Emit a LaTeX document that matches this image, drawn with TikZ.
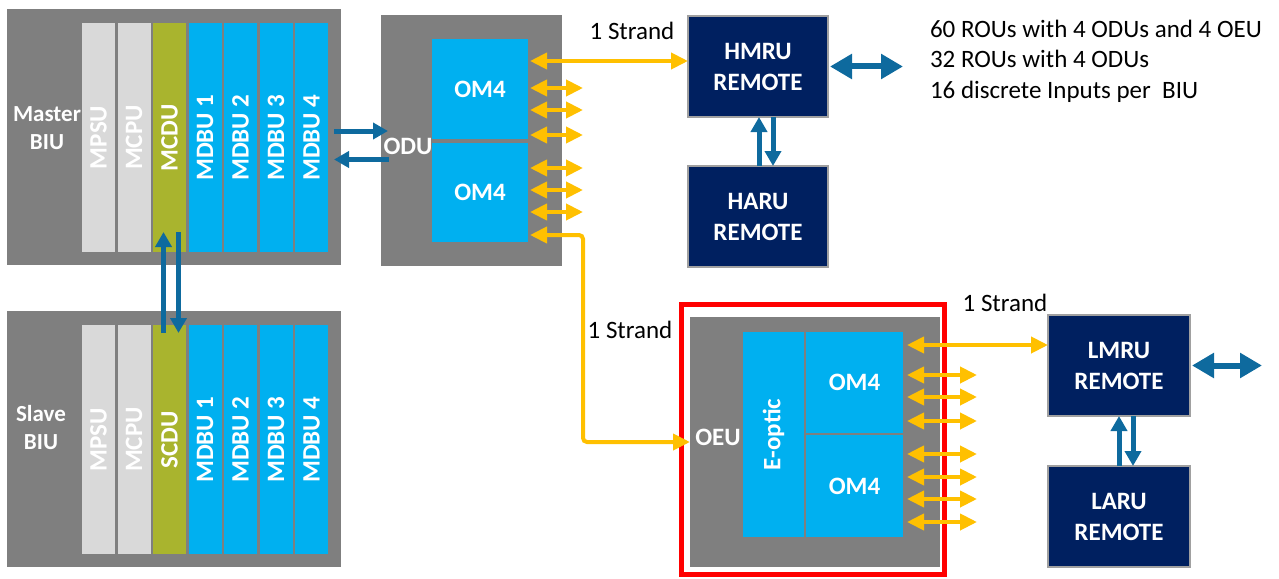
\documentclass[tikz,border=0pt]{standalone}
\usepackage{fontspec}
\setmainfont{Carlito}
\usepackage{tikz}
\usetikzlibrary{arrows.meta, positioning, calc}
\definecolor{colShelf}{RGB}{127,127,127}
\definecolor{colCard}{RGB}{217,217,217}
\definecolor{colCtrl}{RGB}{169,180,46}
\definecolor{colOpt}{RGB}{0,176,240}
\definecolor{colRemote}{RGB}{0,32,96}
\definecolor{colEdge}{RGB}{160,160,160}
\definecolor{colLink}{RGB}{14,106,158}
\definecolor{colFiber}{RGB}{255,192,0}
\definecolor{colAlert}{RGB}{255,0,0}

\begin{document}
\begin{tikzpicture}[
  x=1pt, y=-1pt,
  every node/.style={inner sep=0pt, outer sep=0pt},
  shelf/.style={rectangle, fill=colShelf},
  card/.style={rectangle, fill=#1, minimum width=33pt, minimum height=229pt,
               text=white, font=\bfseries\fontsize{25}{30}\selectfont},
  card/.default=colCard,
  optbox/.style={rectangle, fill=colOpt, text=white,
                 font=\bfseries\fontsize{25}{30}\selectfont},
  remote/.style={rectangle, fill=colRemote, draw=colEdge, line width=1.5pt,
                 minimum width=140pt, minimum height=101pt, align=center,
                 text=white, font=\bfseries\fontsize{25}{31}\selectfont},
  shelflbl/.style={text=white, align=center,
                   font=\bfseries\fontsize{23}{28}\selectfont},
  note/.style={align=left, font=\fontsize{25}{30.5}\selectfont},
  blink/.style={-{Triangle[length=15pt, width=16pt]}, draw=colLink, line width=5pt},
  bboth/.style={{Triangle[length=22pt, width=24pt]}-{Triangle[length=22pt, width=24pt]},
                draw=colLink, line width=6pt},
  fiber/.style={{Triangle[length=17pt, width=16pt]}-{Triangle[length=17pt, width=16pt]},
                draw=colFiber, line width=4pt},
]
\useasboundingbox (0,0) rectangle (1279,578);

% master shelf
\node[shelf, minimum width=334pt, minimum height=256pt, anchor=north west] (master) at (7,9) {};
\node[shelflbl] (masterlbl) at (47,128) {Master\\BIU};
\node[card, anchor=north west] (mpsu) at ($(master.north west)+(75,14)$) {\rotatebox{90}{MPSU}};
\node[card, right=2.5pt of mpsu] (mcpu) {\rotatebox{90}{MCPU}};
\node[card=colCtrl, right=2.5pt of mcpu] (mcdu) {\rotatebox{90}{MCDU}};
\node[card=colOpt, right=2.5pt of mcdu] (mdbuA) {\rotatebox{90}{MDBU 1}};
\node[card=colOpt, right=2.5pt of mdbuA] (mdbuB) {\rotatebox{90}{MDBU 2}};
\node[card=colOpt, right=2.5pt of mdbuB] (mdbuC) {\rotatebox{90}{MDBU 3}};
\node[card=colOpt, right=2.5pt of mdbuC] (mdbuD) {\rotatebox{90}{MDBU 4}};

% slave shelf
\node[shelf, minimum width=334pt, minimum height=256pt, below=46pt of master] (slave) {};
\node[shelflbl] (slavelbl) at (41,428) {Slave\\BIU};
\node[card, anchor=north west] (spsu) at ($(slave.north west)+(75,14)$) {\rotatebox{90}{MPSU}};
\node[card, right=2.5pt of spsu] (scpu) {\rotatebox{90}{MCPU}};
\node[card=colCtrl, right=2.5pt of scpu] (scdu) {\rotatebox{90}{SCDU}};
\node[card=colOpt, right=2.5pt of scdu] (sdbuA) {\rotatebox{90}{MDBU 1}};
\node[card=colOpt, right=2.5pt of sdbuA] (sdbuB) {\rotatebox{90}{MDBU 2}};
\node[card=colOpt, right=2.5pt of sdbuB] (sdbuC) {\rotatebox{90}{MDBU 3}};
\node[card=colOpt, right=2.5pt of sdbuC] (sdbuD) {\rotatebox{90}{MDBU 4}};

% ODU
\node[shelf, minimum width=181pt, minimum height=251pt, anchor=north west] (odu) at (381,15) {};
\node[optbox, minimum width=96pt, minimum height=100pt, anchor=north west] (om4a)
  at ($(odu.north west)+(51,24)$) {OM4};
\node[optbox, minimum width=96pt, minimum height=99pt, below=4pt of om4a] (om4b) {OM4};
\node[shelflbl, font=\bfseries\fontsize{25}{30}\selectfont] (odulbl) at (408,146) {ODU};

% high remotes
\node[remote, anchor=north west] (hmru) at (688,16) {HMRU\\REMOTE};
\node[remote, below=49pt of hmru] (haru) {HARU\\REMOTE};
\node[note, anchor=west] (notes) at (930,61) {60 ROUs with 4 ODUs and 4 OEU\\
  32 ROUs with 4 ODUs\\16 discrete Inputs per~ BIU};

% OEU
\node[draw=colAlert, line width=5pt, minimum width=263.5pt, minimum height=270.5pt]
  (oeuframe) at (812.75,439.3) {};
\node[shelf, minimum width=250pt, minimum height=250pt, anchor=north west] (oeu) at (690,317) {};
\node[optbox, minimum width=61pt, minimum height=205pt, anchor=north west] (eoptic)
  at ($(oeu.north west)+(53,15)$) {\rotatebox{90}{E-optic}};
\node[optbox, minimum width=97pt, minimum height=101pt, anchor=north west] (om4c)
  at ($(eoptic.north east)+(2,0)$) {OM4};
\node[optbox, minimum width=97pt, minimum height=102pt, below=2pt of om4c] (om4d) {OM4};
\node[shelflbl, font=\bfseries\fontsize{25}{30}\selectfont] (oeulbl) at (718,437) {OEU};

% low remotes
\node[remote, minimum width=142pt, anchor=north west] (lmru) at (1048,315) {LMRU\\REMOTE};
\node[remote, minimum width=142pt, below=50pt of lmru] (laru) {LARU\\REMOTE};

% strand labels
\node[note] (strandA) at (632,30.5) {1 Strand};
\node[note] (strandB) at (630,330) {1 Strand};
\node[note] (strandC) at (1005,303) {1 Strand};

% blue links
\coordinate (mtoo) at ($(master.east)+(-7,-6)$);
\coordinate (mtooend) at ($(odu.west |- mtoo)+(7,0)$);
\draw[blink] (mtoo) -- (mtooend);
\coordinate (otom) at ($(odu.west)+(8,19)$);
\coordinate (otomend) at ($(master.east |- otom)+(-7,0)$);
\draw[blink] (otom) -- (otomend);
\coordinate (cdup) at ($(scdu.north)+(-6,8)$);
\coordinate (cdupend) at ($(mcdu.south)+(-6,-20)$);
\draw[blink] (cdup) -- (cdupend);
\coordinate (cddn) at ($(mcdu.south)+(9,-20)$);
\coordinate (cddnend) at ($(scdu.north)+(9,8)$);
\draw[blink] (cddn) -- (cddnend);
\draw[blink] ([xshift=1pt]haru.north) -- ([xshift=1pt]hmru.south);
\draw[blink] ([xshift=15pt]hmru.south) -- ([xshift=15pt]haru.north);
\draw[blink] (laru.north) -- (lmru.south);
\draw[blink] ([xshift=14pt]lmru.south) -- ([xshift=14pt]laru.north);
\coordinate (hmruout) at ($(hmru.east)+(75,0)$);
\draw[bboth] ([xshift=2pt]hmru.east) -- (hmruout);
\coordinate (lmruout) at ($(lmru.east)+(72,0)$);
\draw[bboth] ([xshift=2pt]lmru.east) -- (lmruout);

% fibre ports
\foreach \om/\dy [count=\i] in {om4a/49, om4a/71, om4a/96, om4b/25, om4b/47, om4b/69} {
  \coordinate (pin\i) at ($(\om.north east)+(2,\dy)$);
  \coordinate (pout\i) at ($(pin\i)+(53,0)$);
  \draw[fiber] (pin\i) -- (pout\i);
}
\foreach \om/\dy [count=\i] in {om4c/43, om4c/65, om4c/89, om4d/19, om4d/42, om4d/64, om4d/87} {
  \coordinate (qin\i) at ($(\om.north east)+(4,\dy)$);
  \coordinate (qout\i) at ($(qin\i)+(70,0)$);
  \draw[fiber] (qin\i) -- (qout\i);
}
\coordinate (odutop) at ($(om4a.north east)+(2,22)$);
\draw[fiber] (odutop) -- (hmru.west |- odutop);
\coordinate (odulow) at ($(om4b.north east)+(2,92)$);
\coordinate (oduturn) at ($(odulow)+(53,0)$);
\draw[fiber, rounded corners=4pt] (odulow) -- (oduturn) |- (oeu.west);
\coordinate (oeutop) at ($(om4c.north east)+(4,13)$);
\draw[fiber] (oeutop) -- (lmru.west |- oeutop);

\end{tikzpicture}
\end{document}
